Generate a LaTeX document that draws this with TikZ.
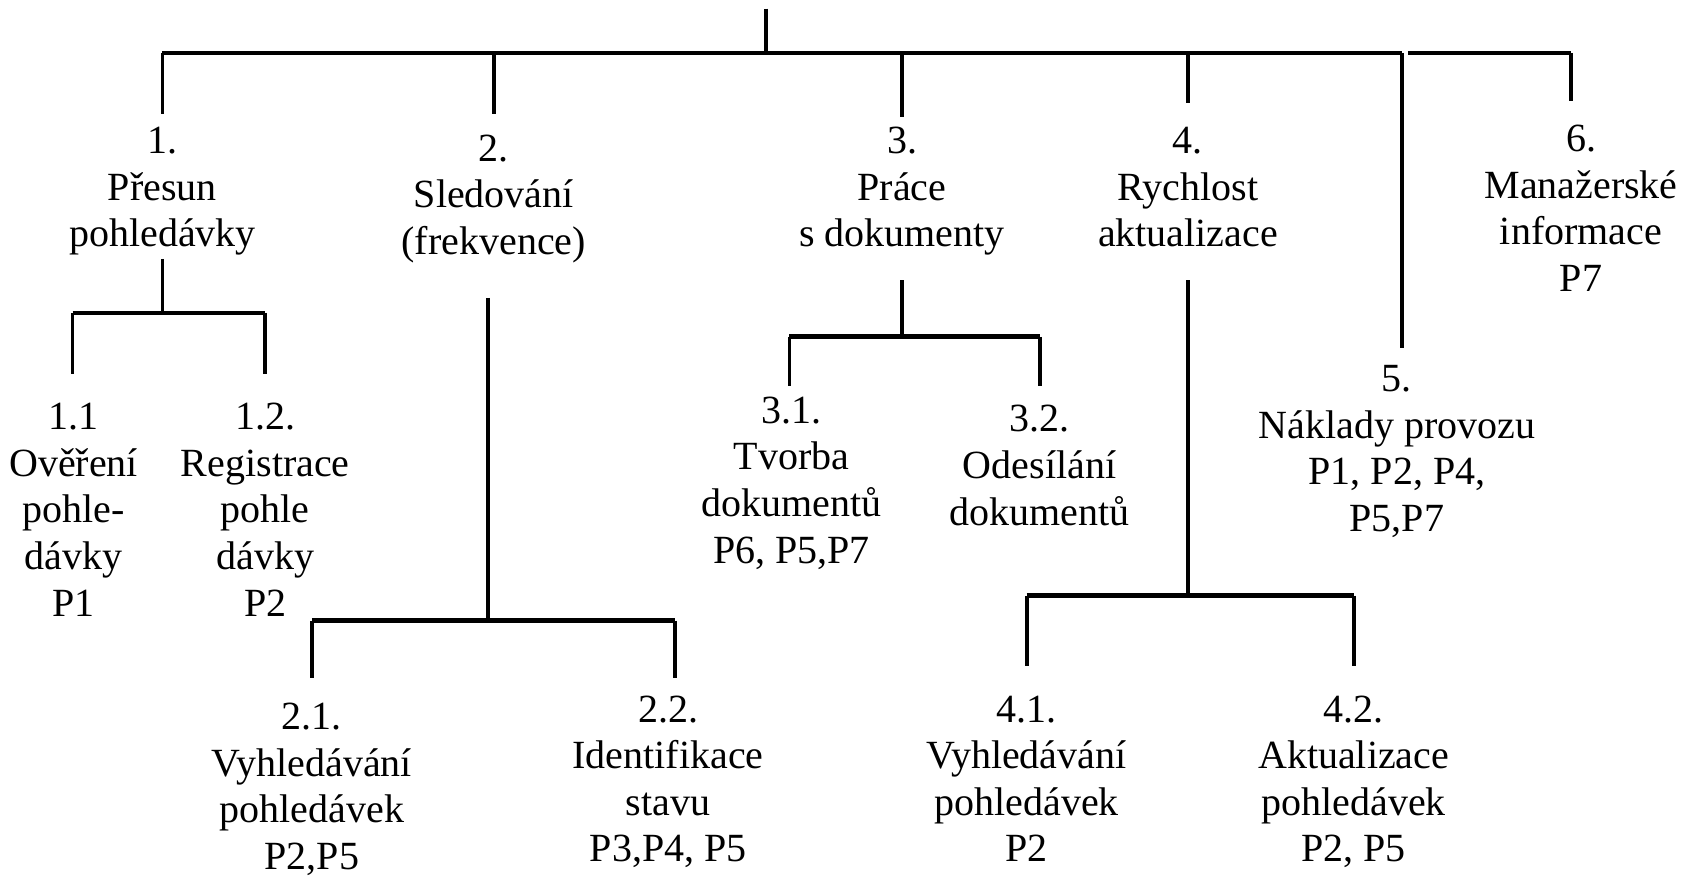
\documentclass[tikz,border=0pt]{standalone}
\usepackage{fontspec}
\setmainfont{Liberation Serif}
\tikzset{
  lbl/.style={align=center, inner sep=0pt, anchor=north, font=\fontsize{20}{23.3}\selectfont},
  stem/.style={line width=1.9pt},
  bar/.style={line width=2.4pt},
}
\begin{document}
\begin{tikzpicture}[x=0.5415pt, y=-0.5415pt]
\useasboundingbox (0,0) rectangle (1568,813);
\node[lbl] (n1) at (150,117) {1.\\Přesun\\pohledávky};
\node[lbl] (n2) at (456,124) {2.\\Sledování\\(frekvence)};
\node[lbl] (n3) at (833,117) {3.\\Práce\\s dokumenty};
\node[lbl] (n4) at (1097,117) {4.\\Rychlost\\aktualizace};
\node[lbl] (n5) at (1290,337) {5.\\Náklady provozu\\P1, P2, P4,\\P5,P7};
\node[lbl] (n6) at (1460,115) {6.\\Manažerské\\informace\\P7};
\node[lbl] (n11) at (68,372) {1.1\\Ověření\\pohle-\\dávky\\P1};
\node[lbl] (n12) at (245,372) {1.2.\\Registrace\\pohle\\dávky\\P2};
\node[lbl] (n21) at (288,649) {2.1.\\Vyhledávání\\pohledávek\\P2,P5};
\node[lbl] (n22) at (617,642) {2.2.\\Identifikace\\stavu\\P3,P4, P5};
\node[lbl] (n31) at (731,366) {3.1.\\Tvorba\\dokumentů\\P6, P5,P7};
\node[lbl] (n32) at (960,374) {3.2.\\Odesílání\\dokumentů};
\node[lbl] (n41) at (948,642) {4.1.\\Vyhledávání\\pohledávek\\P2};
\node[lbl] (n42) at (1250,642) {4.2.\\Aktualizace\\pohledávek\\P2, P5};
\coordinate (root) at (707,8);
\coordinate (top) at (707,49);
\coordinate (b1) at (150,49);
\coordinate (b2) at (456,49);
\coordinate (b3) at (833,49);
\coordinate (b4) at (1097,49);
\coordinate (b5) at (1295,49);
\coordinate (b5r) at (1300,49);
\coordinate (b6) at (1451,49);
\coordinate (e1) at (150,105);
\coordinate (e2) at (456,105);
\coordinate (e3) at (833,108);
\coordinate (e4) at (1097,95);
\coordinate (e5) at (1295,321);
\coordinate (e6) at (1451,93);
\draw[stem] (root)--(top);
\draw[bar] (b1)--(b5);
\draw[bar] (b5r)--(b6);
\draw[stem] (b1)--(e1);
\draw[stem] (b2)--(e2);
\draw[stem] (b3)--(e3);
\draw[stem] (b4)--(e4);
\draw[stem] (b5)--(e5);
\draw[stem] (b6)--(e6);
\coordinate (u1) at (150,239);
\coordinate (j1) at (150,289);
\coordinate (j11) at (67,289);
\coordinate (j12) at (245,289);
\coordinate (e11) at (67,345);
\coordinate (e12) at (245,345);
\draw[stem] (u1)--(j1);
\draw[bar] (j11)--(j12);
\draw[stem] (j11)--(e11);
\draw[stem] (j12)--(e12);
\coordinate (u2) at (451,275);
\coordinate (j2) at (451,573);
\coordinate (j21) at (288,573);
\coordinate (j22) at (623,573);
\coordinate (e21) at (288,626);
\coordinate (e22) at (623,626);
\draw[stem] (u2)--(j2);
\draw[bar] (j21)--(j22);
\draw[stem] (j21)--(e21);
\draw[stem] (j22)--(e22);
\coordinate (u3) at (833,259);
\coordinate (j3) at (833,311);
\coordinate (j31) at (729,311);
\coordinate (j32) at (960,311);
\coordinate (e31) at (729,356);
\coordinate (e32) at (960,356);
\draw[stem] (u3)--(j3);
\draw[bar] (j31)--(j32);
\draw[stem] (j31)--(e31);
\draw[stem] (j32)--(e32);
\coordinate (u4) at (1097,259);
\coordinate (j4) at (1097,550);
\coordinate (j41) at (948,550);
\coordinate (j42) at (1250,550);
\coordinate (e41) at (948,615);
\coordinate (e42) at (1250,615);
\draw[stem] (u4)--(j4);
\draw[bar] (j41)--(j42);
\draw[stem] (j41)--(e41);
\draw[stem] (j42)--(e42);
\end{tikzpicture}
\end{document}
